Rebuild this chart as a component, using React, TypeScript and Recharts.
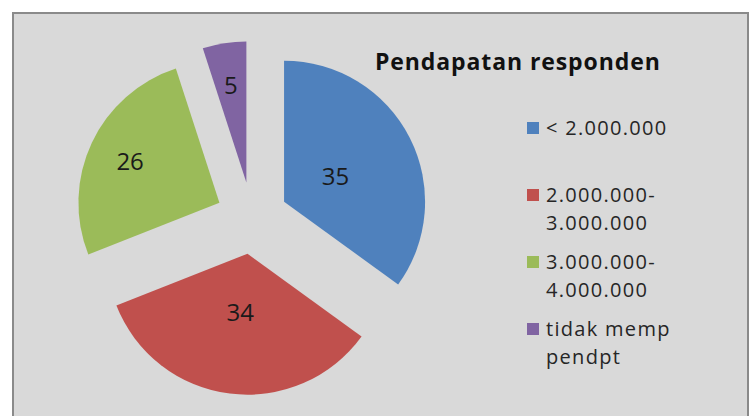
import React from "react";
import { PieChart, Pie, Cell, Sector, Legend } from "recharts";

const categories = ["< 2.000.000", "2.000.000-\n3.000.000", "3.000.000-\n4.000.000", "tidak memp\npendpt"];
const values = [35, 34, 26, 5];
const colors = ["#4f81bd", "#c0504d", "#9bbb59", "#8064a2"];
const title = "Pendapatan responden";

const data = categories.map((name, i) => ({ name, value: values[i] }));

const EXPLODE = 36;
const RAD = Math.PI / 180;

const ExplodedSector = (props: any) => {
  const { cx, cy, midAngle } = props;
  const nx = cx + EXPLODE * Math.cos(midAngle * RAD);
  const ny = cy - EXPLODE * Math.sin(midAngle * RAD);
  return (
    <Sector
      cx={nx}
      cy={ny}
      innerRadius={props.innerRadius}
      outerRadius={props.outerRadius}
      startAngle={props.startAngle}
      endAngle={props.endAngle}
      fill={props.fill}
      stroke="none"
    />
  );
};

const renderLabel = (props: any) => {
  const { cx, cy, midAngle, outerRadius, percent, value } = props;
  const ratio = percent > 0.3 ? 0.41 : 0.7;
  const d = EXPLODE + outerRadius * ratio;
  const x = cx + d * Math.cos(midAngle * RAD);
  const y = cy - d * Math.sin(midAngle * RAD);
  return (
    <text
      x={x}
      y={y}
      textAnchor="middle"
      dominantBaseline="central"
      fill="#1a1a1a"
      style={{ fontFamily: "'Open Sans', sans-serif", fontSize: 24 }}
    >
      {value}
    </text>
  );
};

const LegendContent = () => {
  return (
    <div style={{ fontFamily: "'Open Sans', sans-serif", fontSize: 20, color: "#262626", letterSpacing: 1.3 }}>
      {categories.map((name, i) => (
        <div key={i} style={{ display: "flex", alignItems: "flex-start", height: 67 }}>
          <div style={{ width: 12, height: 12, background: colors[i], marginTop: 8, marginRight: 7, flexShrink: 0 }} />
          <div style={{ whiteSpace: "pre-line", lineHeight: "28px" }}>{name}</div>
        </div>
      ))}
    </div>
  );
};

export default function App() {
  return (
    <div style={{ position: "absolute", left: 0, top: 0, width: 749, height: 416, overflow: "hidden", background: "#ffffff" }}>
      <div
        style={{
          position: "absolute",
          left: 12,
          top: 12,
          width: 737,
          height: 420,
          boxSizing: "border-box",
          border: "2px solid #8a8a8a",
          background: "#d9d9d9",
        }}
      />
      <div
        style={{
          position: "absolute",
          left: 375,
          top: 44,
          fontFamily: "'Open Sans', sans-serif",
          fontWeight: 700,
          fontSize: 23,
          letterSpacing: 0.9,
          color: "#111",
          lineHeight: "34px",
          whiteSpace: "nowrap",
        }}
      >
        {title}
      </div>
      <div style={{ position: "absolute", left: 0, top: 0 }}>
        <PieChart width={749} height={416} margin={{ top: 0, right: 0, bottom: 0, left: 0 }}>
          <Pie
            data={data}
            dataKey="value"
            nameKey="name"
            cx={252}
            cy={218}
            outerRadius={141}
            startAngle={90}
            endAngle={-270}
            stroke="none"
            shape={ExplodedSector}
            label={renderLabel}
            labelLine={false}
            isAnimationActive={false}
          >
            {data.map((d, i) => (
              <Cell key={i} fill={colors[i]} />
            ))}
          </Pie>
          <Legend
            layout="vertical"
            align="right"
            verticalAlign="top"
            content={LegendContent}
            wrapperStyle={{ left: 527, top: 114, width: 200 }}
          />
        </PieChart>
      </div>
    </div>
  );
}
